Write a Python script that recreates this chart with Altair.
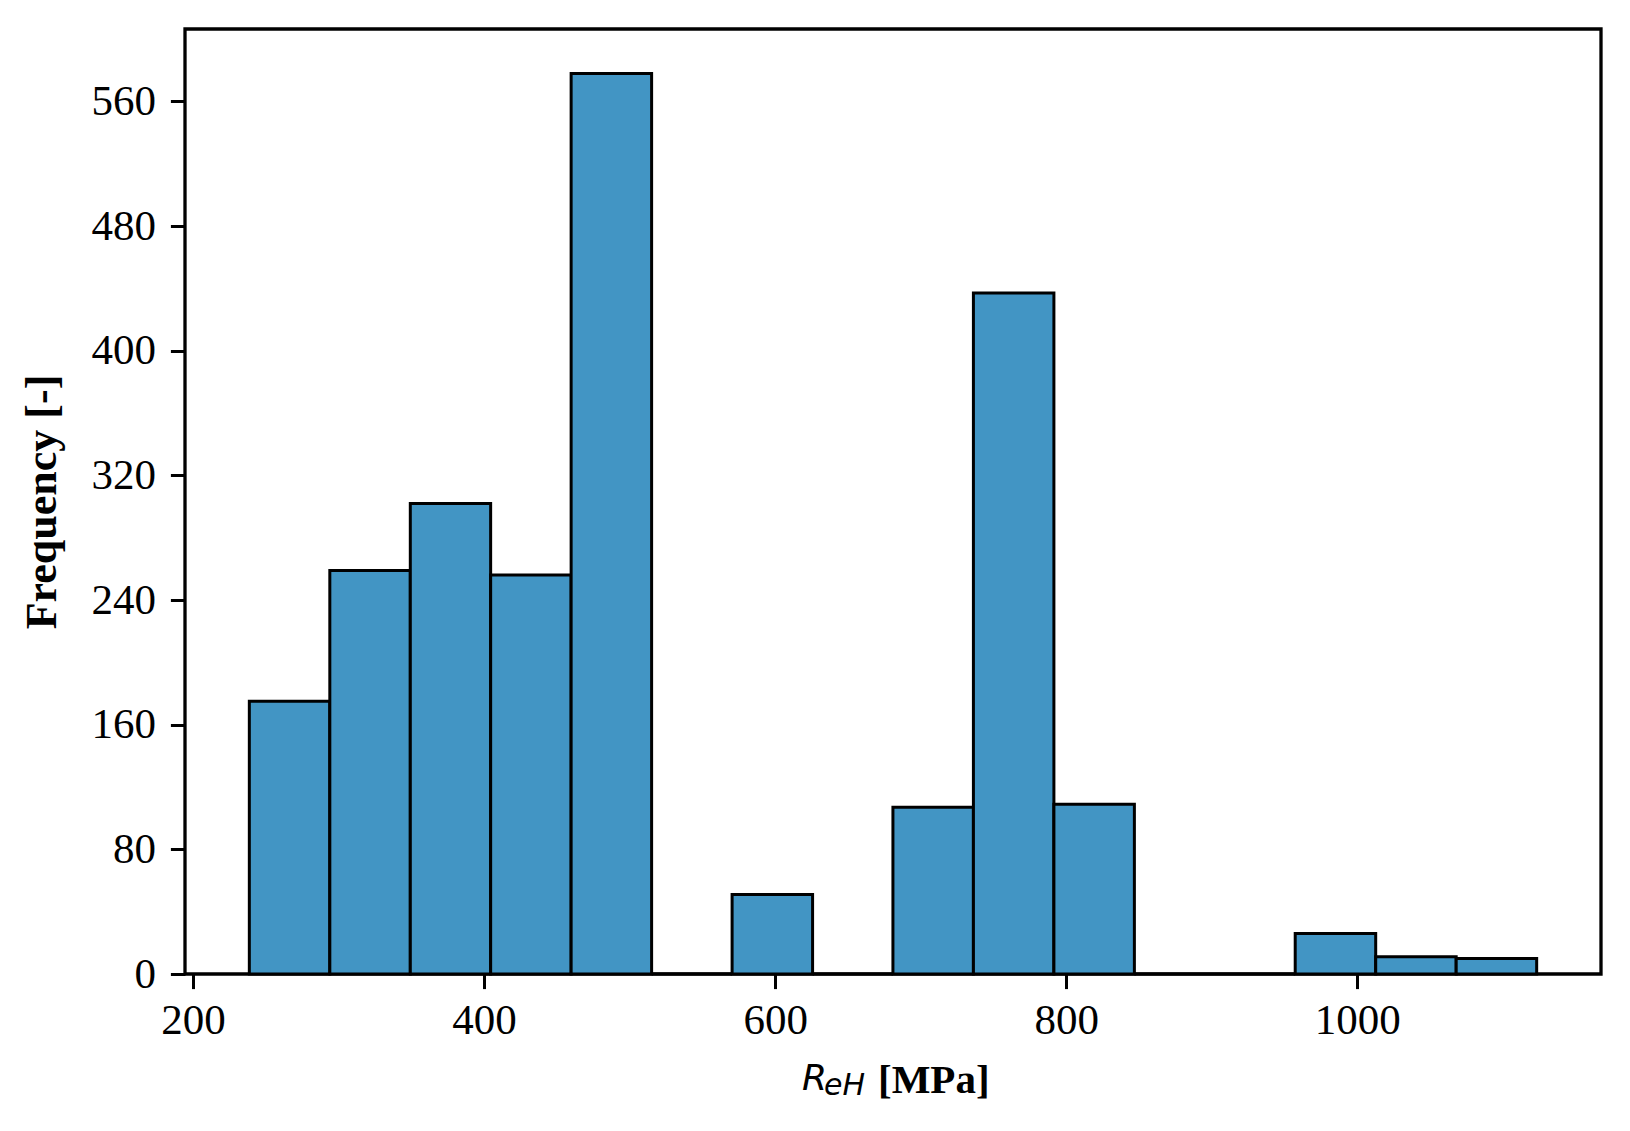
import altair as alt
import pandas as pd

# Histogram of R_eH [MPa]
bin_edges = [238.7, 294.0, 349.3, 404.5, 459.8, 515.1, 570.4, 625.7, 680.9,
             736.2, 791.5, 846.8, 902.1, 957.3, 1012.6, 1067.9, 1123.2]
counts = [175, 259, 302, 256, 578, 0, 51, 0, 107, 437, 109, 0, 0, 26, 11, 10]

x_ticks = [200, 400, 600, 800, 1000]
y_ticks = [0, 80, 160, 240, 320, 400, 480, 560]

df = pd.DataFrame({
    "start": bin_edges[:-1],
    "end": bin_edges[1:],
    "count": counts,
})

SERIF = "Liberation Serif"
W, H = 1416, 945

bars = alt.Chart(df).mark_rect(
    color="#4295c4", stroke="black", strokeWidth=3
).encode(
    x=alt.X("start:Q",
            scale=alt.Scale(domain=[194.5, 1167.4], nice=False, zero=False),
            axis=alt.Axis(values=x_ticks, title=None, format="d",
                          labelFont=SERIF, labelFontSize=43, labelColor="black",
                          labelPadding=11, tickSize=14.6, tickWidth=3,
                          tickColor="black", domain=False, grid=False,
                          labelFlush=False)),
    x2="end:Q",
    y=alt.Y("count:Q",
            scale=alt.Scale(domain=[0, 606.5], nice=False),
            axis=alt.Axis(values=y_ticks, title="Frequency [-]", format="d",
                          labelFont=SERIF, labelFontSize=43, labelColor="black",
                          labelPadding=15, tickSize=14.6, tickWidth=3,
                          tickColor="black", domain=False, grid=False,
                          titleFont=SERIF, titleFontSize=44, titleFontWeight="bold",
                          titleColor="black", titleAngle=-90, titleX=-121,
                          titleY=H / 2, titleAlign="center", titleBaseline="bottom",
                          labelFlush=False)),
    y2=alt.datum(0),
)

title_r = alt.Chart(pd.DataFrame({"t": ["R"]})).mark_text(
    font="DejaVu Sans", fontStyle="italic", fontSize=36, align="left",
    baseline="alphabetic", color="black"
).encode(text="t:N", x=alt.value(617), y=alt.value(1061))

title_sub = alt.Chart(pd.DataFrame({"t": ["eH"]})).mark_text(
    font="DejaVu Sans", fontStyle="italic", fontSize=30, align="left",
    baseline="alphabetic", color="black"
).encode(text="t:N", x=alt.value(639), y=alt.value(1066))

title_unit = alt.Chart(pd.DataFrame({"t": ["[MPa]"]})).mark_text(
    font=SERIF, fontWeight="bold", fontSize=41, align="left",
    baseline="alphabetic", color="black"
).encode(text="t:N", x=alt.value(693), y=alt.value(1064))

chart = alt.layer(bars, title_r, title_sub, title_unit).properties(
    width=W, height=H,
    autosize=alt.AutoSizeParams(type="none"),
    padding={"left": 177, "top": 21, "right": 20, "bottom": 130},
    background="white",
).configure_view(
    stroke="black", strokeWidth=3.3
)

chart.save("out.html", embed_options={"renderer": "svg", "actions": False})
